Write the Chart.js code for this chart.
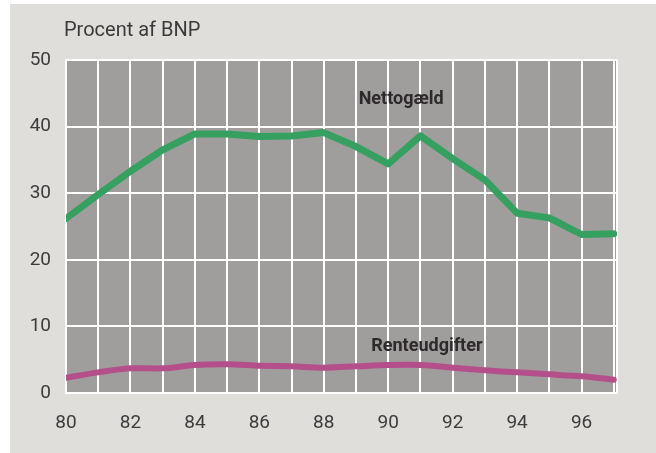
<!DOCTYPE html>
<html>
<head>
<meta charset="utf-8">
<script src="https://cdn.jsdelivr.net/npm/chart.js@4/dist/chart.umd.min.js"></script>
<style>
  body { margin: 0; background: #fff; }
  #wrap { position: absolute; left: 10px; top: 4px; width: 646px; height: 449px; background: #dfdedb; }
  #titel { position: absolute; left: 64px; top: 17px; font: 20px Roboto, sans-serif; color: #3a3a3a; }
  canvas { position: absolute; left: 0; top: 0; }
</style>
</head>
<body>
<div id="wrap"></div>
<canvas id="graf" width="656" height="453"></canvas>
<div id="titel">Procent af BNP</div>
<script>
// aar 1980-1997
var aar = [80, 81, 82, 83, 84, 85, 86, 87, 88, 89, 90, 91, 92, 93, 94, 95, 96, 97];
var nettogaeld = [26.2, 29.8, 33.3, 36.5, 38.9, 38.9, 38.5, 38.6, 39.1, 37, 34.4, 38.6, 35.2, 32, 27, 26.3, 23.8, 23.9];
var renteudgifter = [2.3, 3.1, 3.7, 3.7, 4.2, 4.3, 4.1, 4, 3.8, 4, 4.2, 4.2, 3.8, 3.4, 3.1, 2.8, 2.5, 2.0];
var xEtiketter = [80, 82, 84, 86, 88, 90, 92, 94, 96];
var yEtiketter = [0, 10, 20, 30, 40, 50];
var xMax = 97.1;

// serienavne der staar inde i grafen
var navne = [
  { tekst: 'Nettogæld', x: 90.4, y: 44 },
  { tekst: 'Renteudgifter', x: 91.2, y: 7 }
];

var baggrund = {
  id: 'baggrund',
  beforeDraw: function(chart) {
    var a = chart.chartArea, ctx = chart.ctx;
    ctx.save();
    ctx.fillStyle = '#9f9e9c';
    ctx.fillRect(a.left, a.top, a.right - a.left, a.bottom - a.top);
    ctx.restore();
  },
  afterDatasetsDraw: function(chart) {
    var ctx = chart.ctx;
    ctx.save();
    ctx.font = 'bold 18px Roboto, sans-serif';
    ctx.fillStyle = '#2e2a2c';
    ctx.textAlign = 'center';
    ctx.textBaseline = 'middle';
    navne.forEach(function(n) {
      ctx.fillText(n.tekst, chart.scales.x.getPixelForValue(n.x), chart.scales.y.getPixelForValue(n.y));
    });
    ctx.restore();
  }
};

var ctx = document.getElementById('graf').getContext('2d');
new Chart(ctx, {
  type: 'line',
  data: {
    labels: aar,
    datasets: [{
      label: 'Nettogæld',
      data: aar.map((a, i) => ({ x: a, y: nettogaeld[i] })),
      borderColor: '#36a060',
      borderWidth: 7,
      pointRadius: 0,
      tension: 0,
      borderJoinStyle: 'round',
      borderCapStyle: 'round'
    }, {
      label: 'Renteudgifter',
      data: aar.map((a, i) => ({ x: a, y: renteudgifter[i] })),
      borderColor: '#b54f8c',
      borderWidth: 6,
      pointRadius: 0,
      tension: 0.3,
      borderCapStyle: 'round'
    }]
  },
  options: {
    responsive: false,
    animation: false,
    layout: { padding: { left: 0, right: 39, top: 60, bottom: 0 } },
    plugins: { legend: { display: false }, tooltip: { enabled: false } },
    scales: {
      x: {
        type: 'linear',
        min: 80,
        max: xMax,
        afterFit: function(s) { s.height = 60; },
        afterBuildTicks: function(s) {
          s.ticks = aar.concat([xMax]).map(v => ({ value: v }));
        },
        grid: { color: '#ffffff', lineWidth: 2, drawTicks: false },
        border: { color: '#ffffff', width: 2 },
        ticks: {
          padding: 19,
          color: '#3c3c3c',
          font: { family: 'Roboto, sans-serif', size: 19 },
          autoSkip: false,
          maxRotation: 0,
          callback: function(v) { return xEtiketter.indexOf(v) >= 0 ? v : ''; }
        }
      },
      y: {
        min: 0,
        max: 50,
        afterFit: function(s) { s.width = 66; },
        afterBuildTicks: function(s) {
          s.ticks = yEtiketter.map(v => ({ value: v }));
        },
        grid: { color: '#ffffff', lineWidth: 2, drawTicks: false },
        border: { color: '#ffffff', width: 2 },
        ticks: {
          padding: 15,
          color: '#3c3c3c',
          font: { family: 'Roboto, sans-serif', size: 19 }
        }
      }
    }
  },
  plugins: [baggrund]
});
</script>
</body>
</html>
